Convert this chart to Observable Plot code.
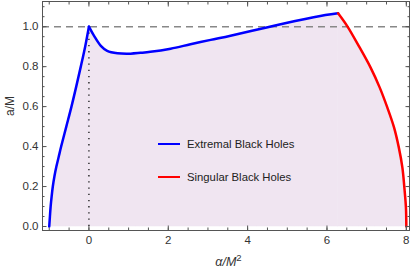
<!DOCTYPE html>
<html><head><meta charset="utf-8">
<script src="https://cdn.jsdelivr.net/npm/d3@7"></script>
<script src="https://cdn.jsdelivr.net/npm/@observablehq/plot@0.6"></script>
<style>
body{margin:0;background:#fff;font-family:"Liberation Sans",Arial,sans-serif;}
#wrap{position:relative;width:415px;height:276px;}
.leg{position:absolute;left:158px;height:14px;font-size:11.3px;color:#222;display:flex;align-items:center;white-space:nowrap;}
.leg .sw{display:inline-block;width:22px;height:0;border-top:2px solid;margin-right:7px;}
.xl{position:absolute;top:255px;left:0;width:415px;padding-left:42px;box-sizing:border-box;text-align:center;font-size:12.5px;color:#333;}
.xl sup{font-size:9.5px;vertical-align:5px;line-height:0;}
</style></head><body><div id="wrap"></div>
<script>
// Extremal black holes (blue): branch left of the cusp, then right of it
const blueX = [-1, -0.983, -0.965, -0.94, -0.91, -0.87, -0.82, -0.76, -0.70, -0.57, -0.44, -0.32, -0.205, -0.095, 0, 0.13, 0.3, 0.46, 0.72, 1.05, 1.3, 1.55, 2.06, 2.56, 3.07, 3.57, 4.45, 5.2, 5.96, 6.28];
const blueY = [0, 0.05, 0.1, 0.15, 0.2, 0.25, 0.3, 0.35, 0.4, 0.5, 0.6, 0.7, 0.8, 0.9, 1, 0.954, 0.904, 0.879, 0.867, 0.865, 0.869, 0.874, 0.89, 0.912, 0.934, 0.955, 0.995, 1.028, 1.058, 1.067];
// Singular black holes (red)
const redX = [6.28, 6.51, 6.8, 7.1, 7.33, 7.52, 7.69, 7.81, 7.9, 7.95, 7.99, 8.0];
const redY = [1.067, 1.003, 0.904, 0.795, 0.695, 0.596, 0.496, 0.396, 0.296, 0.196, 0.096, 0];
// reference lines
const extremalA = 1;   // dashed a/M = 1
const cuspAlpha = 0;   // dotted alpha = 0
const floorA = 0;      // filling down to a/M = 0
// ticks
const xTicks = [0, 2, 4, 6, 8];
const yTicks = [0, 0.2, 0.4, 0.6, 0.8, 1.0];
const xMinor = d3.range(-1, 8.001, 0.5);
const yMinor = d3.range(0, 1.1001, 0.05);
const seriesNames = ["Extremal Black Holes", "Singular Black Holes"];
const seriesColors = ["#0000ff", "#ff0000"];

const blue = blueX.map((x, i) => ({x, y: blueY[i], seg: x <= cuspAlpha ? "a" : "b"}));
const cusp = blue.find(d => d.x === cuspAlpha);
const blueA = blue.filter(d => d.seg === "a");
const blueB = [{...cusp, seg: "b"}, ...blue.filter(d => d.seg === "b")];
const red = redX.map((x, i) => ({x, y: redY[i], seg: "c"}));
const all = [...blueA, ...blueB, ...red];

const frameColor = "#555";
const fillColor = "#f0e5f1";
const chart = Plot.plot({
  width: 415, height: 276,
  marginLeft: 42, marginRight: 6, marginTop: 1, marginBottom: 46,
  x: {domain: [-1.17, 8.08]},
  y: {domain: [-0.02, 1.126]},
  style: {fontFamily: "Liberation Sans, Arial, sans-serif", fontSize: "11.5px", color: "#333", background: "white", overflow: "visible"},
  marks: [
    Plot.area(all, {x1: "x", y1: floorA, y2: "y", z: "seg", fill: fillColor, stroke: fillColor, strokeWidth: 0.6, curve: "catmull-rom"}),
    Plot.ruleY([extremalA], {stroke: "#888", strokeWidth: 1.5, strokeDasharray: "7,5"}),
    Plot.ruleX([cuspAlpha], {y1: floorA, y2: extremalA, stroke: "#111", strokeWidth: 1.3, strokeDasharray: "1.3,4.9"}),
    Plot.line(blueA, {x: "x", y: "y", stroke: seriesColors[0], strokeWidth: 2.5, curve: "catmull-rom"}),
    Plot.line(blueB, {x: "x", y: "y", stroke: seriesColors[0], strokeWidth: 2.5, curve: "catmull-rom"}),
    Plot.line(red, {x: "x", y: "y", stroke: seriesColors[1], strokeWidth: 2.5, curve: "catmull-rom"}),
    Plot.frame({stroke: frameColor}),
    // minor ticks (inward)
    Plot.axisX(xMinor, {anchor: "bottom", tickSize: -2.5, tickFormat: () => "", label: null, stroke: frameColor}),
    Plot.axisX(xMinor, {anchor: "top", tickSize: -2.5, tickFormat: () => "", label: null, stroke: frameColor}),
    Plot.axisY(yMinor, {anchor: "left", tickSize: -2.5, tickFormat: () => "", label: null, stroke: frameColor}),
    Plot.axisY(yMinor, {anchor: "right", tickSize: -2.5, tickFormat: () => "", label: null, stroke: frameColor}),
    // major ticks (inward)
    Plot.axisX(xTicks, {anchor: "bottom", tickSize: -4.5, tickFormat: () => "", label: null, stroke: frameColor}),
    Plot.axisX(xTicks, {anchor: "top", tickSize: -4.5, tickFormat: () => "", label: null, stroke: frameColor}),
    Plot.axisY(yTicks, {anchor: "left", tickSize: -4.5, tickFormat: () => "", label: null, stroke: frameColor}),
    Plot.axisY(yTicks, {anchor: "right", tickSize: -4.5, tickFormat: () => "", label: null, stroke: frameColor}),
    // labels
    Plot.axisX(xTicks, {anchor: "bottom", tickSize: 0, tickPadding: 5, tickFormat: d3.format("d"), label: null}),
    Plot.axisY(yTicks, {anchor: "left", tickSize: 0, tickPadding: 4, tickFormat: d3.format(".1f"), label: null}),
    Plot.text(["a/M"], {frameAnchor: "left", dx: -32, rotate: -90, fontSize: 12, fill: "#333"})
  ]
});
const wrap = document.getElementById("wrap");
wrap.appendChild(chart);

const tops = [137, 170];
seriesNames.forEach((n, i) => {
  const d = document.createElement("div");
  d.className = "leg";
  d.style.top = tops[i] + "px";
  d.innerHTML = `<span class="sw" style="border-color:${seriesColors[i]}"></span>${n}`;
  wrap.appendChild(d);
});
const xl = document.createElement("div");
xl.className = "xl";
xl.innerHTML = "<i>α/M</i><sup>2</sup>";
wrap.appendChild(xl);
</script>
</body></html>
